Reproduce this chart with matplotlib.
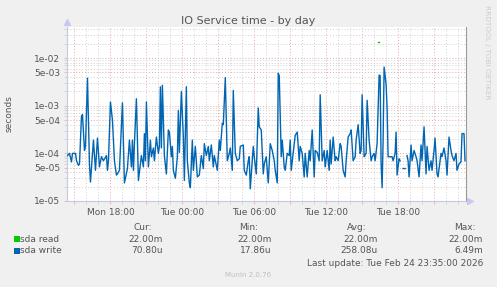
import numpy as np
import pandas as pd
import matplotlib
matplotlib.use('Agg')
import matplotlib.pyplot as plt
import matplotlib.dates as mdates
from matplotlib.ticker import FixedLocator, FuncFormatter, NullFormatter
from matplotlib.patches import Rectangle

# first 5 minute slot of the graph
start = pd.Timestamp('2026-02-23 14:25')
end = pd.Timestamp('2026-02-24 23:40')

# sda write, slot index (5 min) and seconds
write_steps = [0, 2, 4, 5, 8, 9, 11, 12, 14, 15, 17, 18, 20, 22, 23, 25, 26, 28, 30, 32,
               34, 36, 39, 40, 41, 43, 45, 47, 49, 50, 52, 55, 57, 60, 62, 64, 65, 66, 67, 69,
               71, 74, 76, 77, 78, 79, 81, 83, 84, 86, 87, 89, 91, 92, 93, 94, 95, 97, 99, 101,
               102, 104, 105, 106, 108, 110, 111, 112, 114, 116, 117, 119, 120, 122, 123, 125, 126, 128, 130, 132,
               134, 136, 137, 139, 141, 142, 144, 146, 147, 150, 152, 153, 155, 156, 158, 160, 162, 163, 165, 166,
               168, 170, 172, 173, 176, 177, 179, 181, 182, 183, 186, 187, 189, 191, 192, 194, 196, 197, 199, 201,
               203, 205, 207, 208, 210, 211, 212, 214, 215, 217, 218, 220, 222, 223, 224, 227, 228, 230, 232, 233,
               235, 237, 238, 240, 242, 243, 245, 247, 248, 250, 252, 253, 255, 257, 258, 260, 262, 263, 264, 266,
               268, 269, 271, 273, 274, 276, 278, 279, 281, 283, 284, 286, 288, 289, 291, 293, 294, 295, 297, 299,
               300, 302, 304, 305, 307, 308, 310, 312, 313, 314, 315, 316, 317, 319, 320, 321, 323, 325, 326, 328,
               329, 330, 332, 333, 335, 336, 338, 339, 340, 341, 342, 344, 345, 347, 349, 350, 352, 354, 355, 357,
               359, 360, 362, 364, 365, 367, 368, 370, 371, 374, 375, 377, 379, 380, 382, 384, 385, 387, 389, 390,
               392, 394, 395, 397, 398]
write_vals = [9e-5, 1e-4, 6.6e-5, 1e-4, 1e-4, 7e-5, 5.6e-5, 6e-5, 6e-4, 6.5e-4, 1.15e-4, 1.4e-4, 3.8e-3, 6e-5, 2.5e-5, 1e-4, 1.9e-4, 4.4e-5, 2.1e-4, 5.2e-5,
              8.5e-5, 7e-5, 9e-5, 4.4e-5, 7e-5, 1.2e-3, 5e-4, 7e-5, 3.5e-5, 3.7e-5, 4.4e-5, 1.15e-3, 2.4e-5, 4.8e-5, 1.9e-4, 5.2e-5, 1.9e-4, 4.4e-5, 1.6e-4, 1.4e-3,
              2.7e-5, 9e-5, 5.2e-5, 2.6e-4, 7e-5, 1.2e-3, 5.2e-5, 1.9e-4, 8.5e-5, 1.3e-4, 7e-5, 2.2e-4, 1e-4, 1.4e-4, 2.5e-3, 1.3e-4, 2.7e-3, 9e-5, 3.7e-5, 3.1e-4,
              2.8e-4, 8.5e-5, 1.4e-4, 4.4e-5, 3e-5, 8.5e-5, 8e-4, 1.05e-4, 2e-3, 2.2e-4, 2.7e-5, 2.5e-3, 7e-5, 2.4e-5, 1.9e-5, 1.9e-4, 4.4e-5, 1.4e-4, 3.2e-5, 3.5e-5,
              9e-5, 4.8e-5, 1.6e-4, 9e-5, 1.4e-4, 7e-5, 1.5e-4, 5.2e-5, 9e-5, 4.4e-5, 1.9e-4, 1.15e-4, 4.3e-4, 4e-4, 3.9e-3, 7e-5, 1e-4, 1.3e-4, 4.4e-5, 2.1e-3,
              1e-4, 7e-5, 7.7e-5, 1.4e-4, 1.5e-4, 4.4e-5, 3.5e-5, 7e-5, 8.5e-5, 1.8e-5, 1.4e-4, 8.5e-5, 3.7e-5, 9e-4, 3.6e-4, 3.1e-4, 3.7e-5, 6e-5, 8.5e-5, 2.4e-5,
              1.6e-4, 1.15e-4, 7e-5, 4.4e-5, 2.4e-5, 4.8e-3, 4.3e-3, 8.5e-5, 1.9e-4, 5.2e-5, 4.4e-5, 1e-4, 9e-5, 1.9e-4, 4.4e-5, 1.6e-4, 2.4e-4, 2.8e-4, 7e-5, 1.4e-4,
              1e-4, 3.2e-5, 1e-4, 3.2e-5, 1.15e-4, 7e-5, 3.1e-4, 3.2e-5, 1.15e-4, 1.05e-4, 7e-5, 1.7e-3, 7e-5, 1.15e-4, 5.2e-5, 1.15e-4, 4.4e-5, 1.9e-4, 6e-5, 2.2e-4,
              7e-5, 8.5e-5, 7e-5, 1.6e-4, 1.4e-4, 4.4e-5, 3.2e-5, 7e-5, 2.2e-4, 2.6e-4, 3.1e-4, 7e-5, 8.5e-5, 1.9e-4, 4e-4, 1e-4, 1.15e-4, 1.7e-3, 8.5e-5, 1e-4,
              1.3e-3, 1.9e-4, 7e-5, 8.5e-5, 1e-4, 7e-5, 1.6e-4, 4.4e-3, 4.3e-3, 6e-5, 1.9e-5, 1.9e-4, 6.49e-3, 2.8e-3, 9e-4, 8.5e-5, 8.5e-5, 8.5e-5, 7e-5, 1e-4,
              2.8e-4, 3.5e-5, 7.7e-5, 7e-5, np.nan, 4.8e-5, 4.8e-5, np.nan, 9e-5, 7e-5, 3.2e-5, 1.5e-4, 7e-5, 1.15e-4, 8.5e-5, 7e-5, 3.2e-5, 1.5e-4, 7e-5, 3.6e-4,
              3.7e-5, 1.4e-4, 4.4e-5, 7e-5, 4.4e-5, 1.15e-4, 2.1e-4, 3.7e-5, 3.2e-5, 1e-4, 8.5e-5, 1.3e-4, 7e-5, 3.5e-5, 2.2e-4, 1.15e-4, 9e-5, 7e-5, 1e-4, 4.4e-5,
              6e-5, 6.6e-5, 2.6e-4, 2.6e-4, 7e-5]

# sda read only has one sample
read_steps = [311, 312]
read_vals = [0.022, 0.022]

names = ['sda read', 'sda write']
colors = ['#00cc00', '#0066b3']
cur = ['22.00m', '70.80u']
mins = ['22.00m', '17.86u']
avgs = ['22.00m', '258.08u']
maxs = ['22.00m', '6.49m']
last_update = 'Last update: Tue Feb 24 23:35:00 2026'

txt = '#555555'
W, H = 497, 287

fig = plt.figure(figsize=(W / 100, H / 100), dpi=100, facecolor='#f0f0f0')
ax = fig.add_axes([67 / W, 1 - 201 / H, 399 / W, 174 / H])
ax.set_facecolor('white')

t0 = mdates.date2num(start.to_pydatetime())
tw = t0 + np.array(write_steps) * 5 / 1440.0
tr = t0 + np.array(read_steps) * 5 / 1440.0

ax.plot(tw, write_vals, color=colors[1], lw=1.0, zorder=3)
ax.plot(tr, read_vals, color=colors[0], lw=1.0, zorder=3)

ax.set_yscale('log')
ax.set_ylim(1e-5, 4.5e-2)
ax.set_xlim(t0 - 2.5 / 1440, mdates.date2num(end.to_pydatetime()))

# y ticks: labels at 1 and 5 per decade
yt = [1e-5, 5e-5, 1e-4, 5e-4, 1e-3, 5e-3, 1e-2]
ax.yaxis.set_major_locator(FixedLocator(yt))
ax.yaxis.set_major_formatter(FuncFormatter(lambda v, p: '%.0e' % v))
ym = []
for d in [1e-5, 1e-4, 1e-3, 1e-2]:
    for s in [2, 3, 4, 6, 7, 8, 9]:
        if d * s < 4.5e-2:
            ym.append(d * s)
ax.yaxis.set_minor_locator(FixedLocator(ym))
ax.yaxis.set_minor_formatter(NullFormatter())

def xfmt(v, p):
    d = mdates.num2date(v)
    if d.hour % 6 == 0:
        return d.strftime('%a %H:%M')
    return ''

ax.xaxis.set_major_locator(mdates.HourLocator(byhour=range(0, 24, 3)))
ax.xaxis.set_major_formatter(FuncFormatter(xfmt))
ax.xaxis.set_minor_locator(mdates.HourLocator())

ax.grid(which='major', color='#eaa8a8', ls=(0, (1, 2)), lw=0.7, zorder=1)
ax.grid(which='minor', color='#cfcfcf', ls=(0, (1, 2)), lw=0.7, zorder=0)
ax.tick_params(which='both', length=2, width=0.6, colors='#e0b0b0', labelcolor=txt, labelsize=6.5, pad=3)
ax.tick_params(which='minor', colors='#d0d0d0')

for s in ['top']:
    ax.spines[s].set_visible(False)
ax.spines['left'].set_color('#c8c8e0')
ax.spines['bottom'].set_color('#c8c8e0')
ax.spines['right'].set_color('#999999')
for s in ax.spines.values():
    s.set_linewidth(0.8)

# little arrows at axis ends
ax.plot([0], [1.03], marker='^', ms=4, color='#c8c8f0', transform=ax.transAxes, clip_on=False)
ax.plot([1.01], [0], marker='>', ms=4, color='#c8c8f0', transform=ax.transAxes, clip_on=False)

fig.text(248 / W, 1 - 21 / H, 'IO Service time - by day', ha='center', va='center', fontsize=8, color=txt)
fig.text(9 / W, 1 - 114 / H, 'seconds', rotation=90, ha='center', va='center', fontsize=6.5, color=txt)
fig.text(487 / W, 1 - 52 / H, 'RRDTOOL / TOBI OETIKER', rotation=270, ha='center', va='center',
         fontsize=5.3, color='#cccccc')

# legend block
fs = 6.5
fig.text(133 / W, 1 - 228 / H, 'Cur:', ha='left', va='center', fontsize=fs, color=txt)
fig.text(239 / W, 1 - 228 / H, 'Min:', ha='left', va='center', fontsize=fs, color=txt)
fig.text(347 / W, 1 - 228 / H, 'Avg:', ha='left', va='center', fontsize=fs, color=txt)
fig.text(476 / W, 1 - 228 / H, 'Max:', ha='right', va='center', fontsize=fs, color=txt)
for i in range(len(names)):
    yy = 1 - (239 + i * 11.7) / H
    fig.patches.append(Rectangle((14 / W, yy - 3 / H), 5.5 / W, 6 / H, transform=fig.transFigure,
                                 facecolor=colors[i], edgecolor='none'))
    fig.text(20 / W, yy, names[i], ha='left', va='center', fontsize=fs, color=txt)
    fig.text(163 / W, yy, cur[i], ha='right', va='center', fontsize=fs, color=txt)
    fig.text(272 / W, yy, mins[i], ha='right', va='center', fontsize=fs, color=txt)
    fig.text(378 / W, yy, avgs[i], ha='right', va='center', fontsize=fs, color=txt)
    fig.text(483 / W, yy, maxs[i], ha='right', va='center', fontsize=fs, color=txt)
fig.text(483 / W, 1 - 263 / H, last_update, ha='right', va='center', fontsize=fs, color=txt)
fig.text(248 / W, 1 - 275 / H, 'Munin 2.0.76', ha='center', va='center', fontsize=5, color='#c0c0c0')

fig.savefig('out.png', dpi=100, facecolor=fig.get_facecolor())
